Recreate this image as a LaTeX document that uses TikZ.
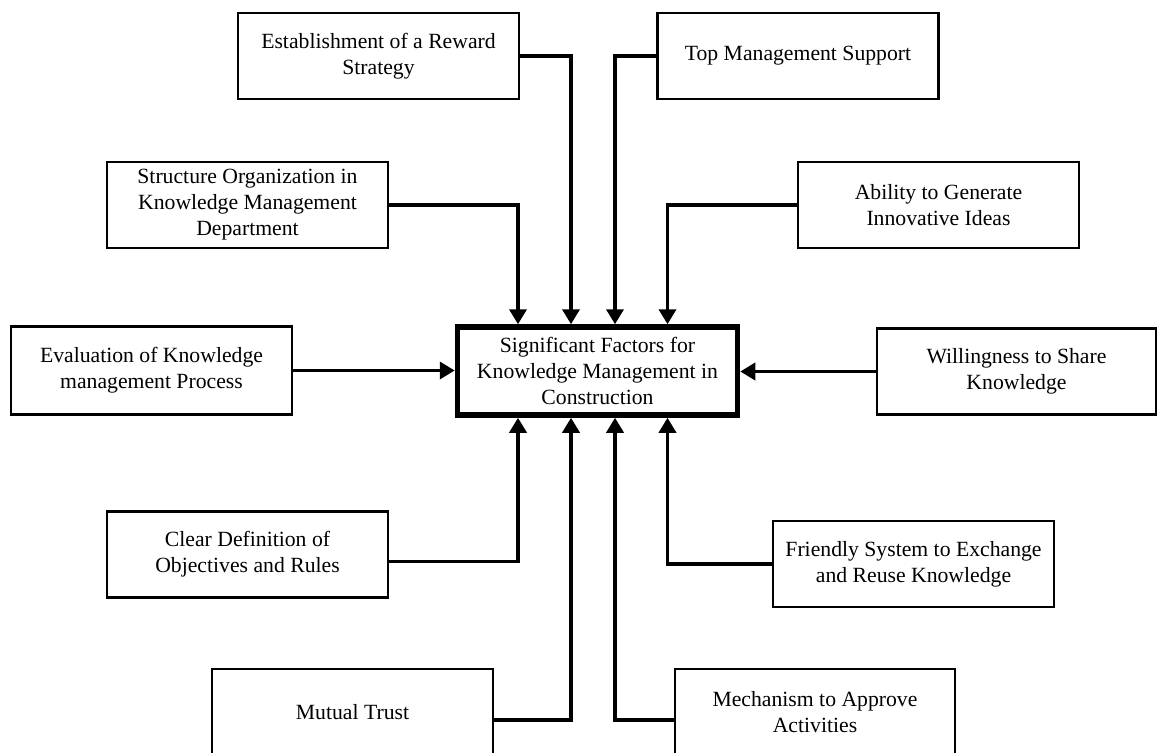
\documentclass[tikz,border=0pt]{standalone}
\usepackage{fontspec}
\setmainfont{Liberation Serif}
\usetikzlibrary{arrows.meta}
\begin{document}
\begin{tikzpicture}[x=1pt,y=-1pt,
  box/.style={draw=black, line width=2.7pt, fill=white, minimum width=281pt, minimum height=86pt, inner sep=0pt, align=center, font=\fontsize{21.7}{26}\selectfont},
  cbox/.style={draw=black, line width=5.5pt, fill=white, minimum width=280pt, minimum height=88pt, inner sep=0pt, align=center, font=\fontsize{21.7}{26}\selectfont},
  conn/.style={line width=3.6pt, line join=miter, -{Triangle[length=15pt,width=17pt]}}]
\useasboundingbox (0,0) rectangle (1158,752);
\node[cbox] (c) at (597.5,371) {Significant Factors for\\Knowledge Management in\\Construction};
\node[box] (reward) at (378.5,56) {Establishment of a Reward\\Strategy};
\node[box] (top) at (798,56) {Top Management Support};
\node[box] (struct) at (247.5,205) {Structure Organization in\\Knowledge Management\\Department};
\node[box] (ability) at (938.5,205) {Ability to Generate\\Innovative Ideas};
\node[box, minimum height=88pt] (eval) at (151.5,370.5) {Evaluation of Knowledge\\management Process};
\node[box, minimum width=279pt] (will) at (1016.5,371.5) {Willingness to Share\\Knowledge};
\node[box] (clear) at (247.5,554.5) {Clear Definition of\\Objectives and Rules};
\node[box] (friendly) at (913.5,564) {Friendly System to Exchange\\and Reuse Knowledge};
\node[box] (mutual) at (352.5,712) {Mutual Trust};
\node[box, minimum width=280pt] (mech) at (815,712) {Mechanism to Approve\\Activities};
\draw[conn] (reward.east) -| ([xshift=-26.5pt]c.north);
\draw[conn] (top.west) -| ([xshift=17.5pt]c.north);
\draw[conn] (struct.east) -| ([xshift=-79.5pt]c.north);
\draw[conn] (ability.west) -| ([xshift=70pt]c.north);
\draw[conn] (eval.east) -- (eval.east -| c.west);
\draw[conn] (will.west) -- (will.west -| c.east);
\draw[conn] ([yshift=-7pt]clear.east) -| ([xshift=-79.5pt]c.south);
\draw[conn] (friendly.west) -| ([xshift=70pt]c.south);
\draw[conn] ([yshift=-8pt]mutual.east) -| ([xshift=-26.5pt]c.south);
\draw[conn] ([yshift=-8pt]mech.west) -| ([xshift=17.5pt]c.south);
\end{tikzpicture}
\end{document}
